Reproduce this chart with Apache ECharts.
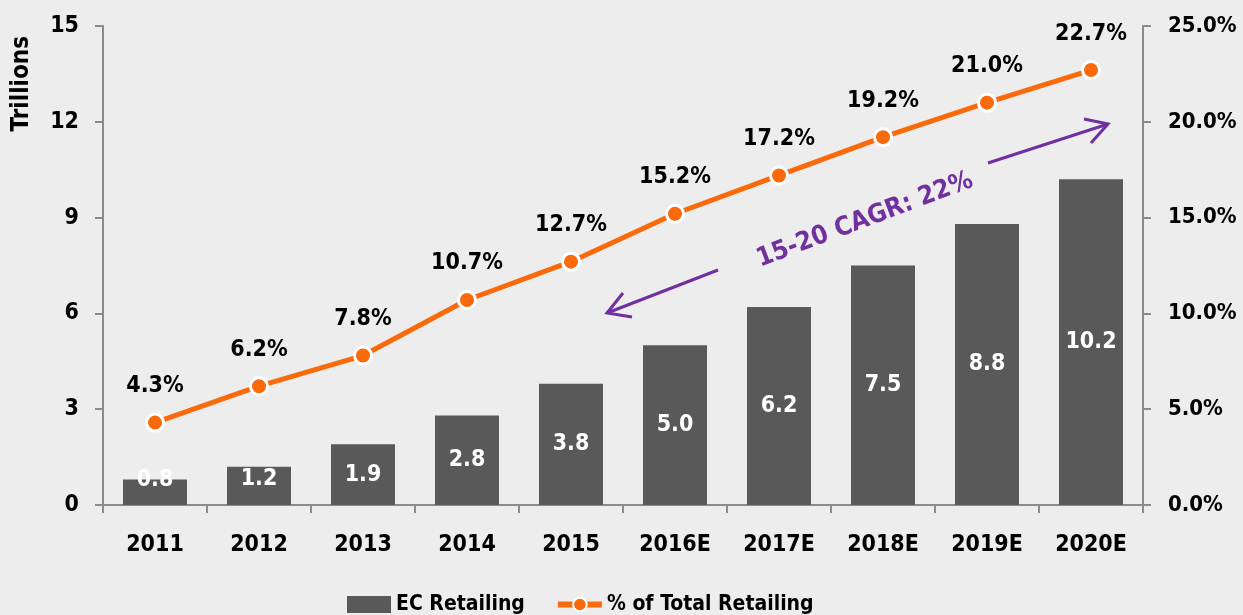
<!DOCTYPE html>
<html>
<head>
<meta charset="utf-8">
<script src="https://cdn.jsdelivr.net/npm/echarts@6/dist/echarts.min.js"></script>
<style>
  html, body { margin: 0; padding: 0; background: #ededed; }
  #chartContainer { width: 1243px; height: 615px; }
</style>
</head>
<body>
<div id="chartContainer"></div>
<script>
'use strict';
const years = ['2011', '2012', '2013', '2014', '2015', '2016E', '2017E', '2018E', '2019E', '2020E'];
const ecRetailing = [0.8, 1.2, 1.9, 2.8, 3.8, 5.0, 6.2, 7.5, 8.8, 10.2];
const shareOfTotal = [4.3, 6.2, 7.8, 10.7, 12.7, 15.2, 17.2, 19.2, 21.0, 22.7];
const leftTicks = [0, 15, 3];
const rightTicks = [0, 25, 5];

let initChart = (function() {
    let chartContainer = document.getElementById('chartContainer');
    let demoChart = echarts.init(chartContainer);
    const font = ['Liberation Sans Narrow', 'DejaVu Sans Condensed', 'Arial Narrow', 'sans-serif'];
    const axisColor = '#8a8a8a';
    const purple = '#7030a0';

    // small bars keep their label near the top edge
    let barData = ecRetailing.map(function(v) {
        if (v < 1.5) {
            return {
                value: v,
                label: { position: 'insideTop', distance: 1, offset: [0, v < 1 ? -12 : 0] }
            };
        }
        return v;
    });

    let option = {
        backgroundColor: '#ededed',
        textStyle: { fontFamily: font },
        grid: { left: 103, right: 100, top: 26, bottom: 110 },
        legend: {
            bottom: -5,
            left: 342,
            itemWidth: 44,
            itemHeight: 17,
            itemGap: 30,
            textStyle: { fontSize: 21, fontWeight: 'bold', color: '#000', fontFamily: font },
            data: [{ name: 'EC Retailing', icon: 'rect' }, {
                name: '% of Total Retailing',
                lineStyle: { width: 6 }
            }]
        },
        xAxis: {
            type: 'category',
            data: years,
            axisLine: { lineStyle: { color: axisColor, width: 2 } },
            axisTick: { show: true, length: 8, lineStyle: { color: axisColor, width: 2 } },
            axisLabel: { margin: 29, fontSize: 23, fontWeight: 'bold', color: '#000', fontFamily: font }
        },
        yAxis: [{
            type: 'value',
            min: leftTicks[0],
            max: leftTicks[1],
            interval: leftTicks[2],
            axisLine: { show: true, lineStyle: { color: axisColor, width: 2 } },
            axisTick: { show: true, length: 8, lineStyle: { color: axisColor, width: 2 } },
            axisLabel: { margin: 24, fontSize: 23, fontWeight: 'bold', color: '#000', fontFamily: font },
            splitLine: { show: false }
        }, {
            type: 'value',
            position: 'right',
            min: rightTicks[0],
            max: rightTicks[1],
            interval: rightTicks[2],
            axisLine: { show: true, lineStyle: { color: axisColor, width: 2 } },
            axisTick: { show: true, length: 8, lineStyle: { color: axisColor, width: 2 } },
            axisLabel: {
                margin: 25, fontSize: 22, fontWeight: 'bold', color: '#000', fontFamily: font,
                formatter: function(v) { return v.toFixed(1) + '%'; }
            },
            splitLine: { show: false }
        }],
        graphic: [{
            type: 'text',
            left: 10,
            top: 36,
            rotation: Math.PI / 2,
            style: { text: 'Trillions', font: 'bold 24px "Liberation Sans Narrow", "DejaVu Sans Condensed", sans-serif', fill: '#000' }
        }, {
            type: 'text',
            x: 865,
            y: 220,
            rotation: 0.36,
            style: {
                text: '15-20 CAGR: 22%',
                font: 'bold 26px "Liberation Sans Narrow", "DejaVu Sans Condensed", sans-serif',
                fill: purple,
                align: 'center',
                verticalAlign: 'middle'
            }
        }, {
            type: 'polyline',
            shape: { points: [[718, 270], [607, 313]] },
            style: { stroke: purple, lineWidth: 3 }
        }, {
            type: 'polyline',
            shape: { points: [[623, 293], [607, 313], [632, 317]] },
            style: { stroke: purple, lineWidth: 3, fill: null }
        }, {
            type: 'polyline',
            shape: { points: [[988, 163], [1108, 124]] },
            style: { stroke: purple, lineWidth: 3 }
        }, {
            type: 'polyline',
            shape: { points: [[1084, 119], [1108, 124], [1091, 143]] },
            style: { stroke: purple, lineWidth: 3, fill: null }
        }],
        series: [{
            name: 'EC Retailing',
            type: 'bar',
            data: barData,
            barWidth: 64,
            itemStyle: { color: '#595959' },
            label: {
                show: true,
                position: 'inside',
                color: '#fff',
                fontSize: 23,
                fontWeight: 'bold',
                fontFamily: font,
                formatter: function(p) { return p.value.toFixed(1); }
            }
        }, {
            name: '% of Total Retailing',
            type: 'line',
            yAxisIndex: 1,
            data: shareOfTotal,
            symbol: 'circle',
            symbolSize: 17,
            lineStyle: { color: '#fa6a0a', width: 5 },
            itemStyle: { color: '#fa6a0a', borderColor: '#fff', borderWidth: 3 },
            label: {
                show: true,
                position: 'top',
                distance: 15,
                color: '#000',
                fontSize: 23,
                fontWeight: 'bold',
                fontFamily: font,
                formatter: function(p) { return p.value.toFixed(1) + '%'; }
            },
            z: 5
        }]
    };

    demoChart.setOption(option);
})();
</script>
</body>
</html>
